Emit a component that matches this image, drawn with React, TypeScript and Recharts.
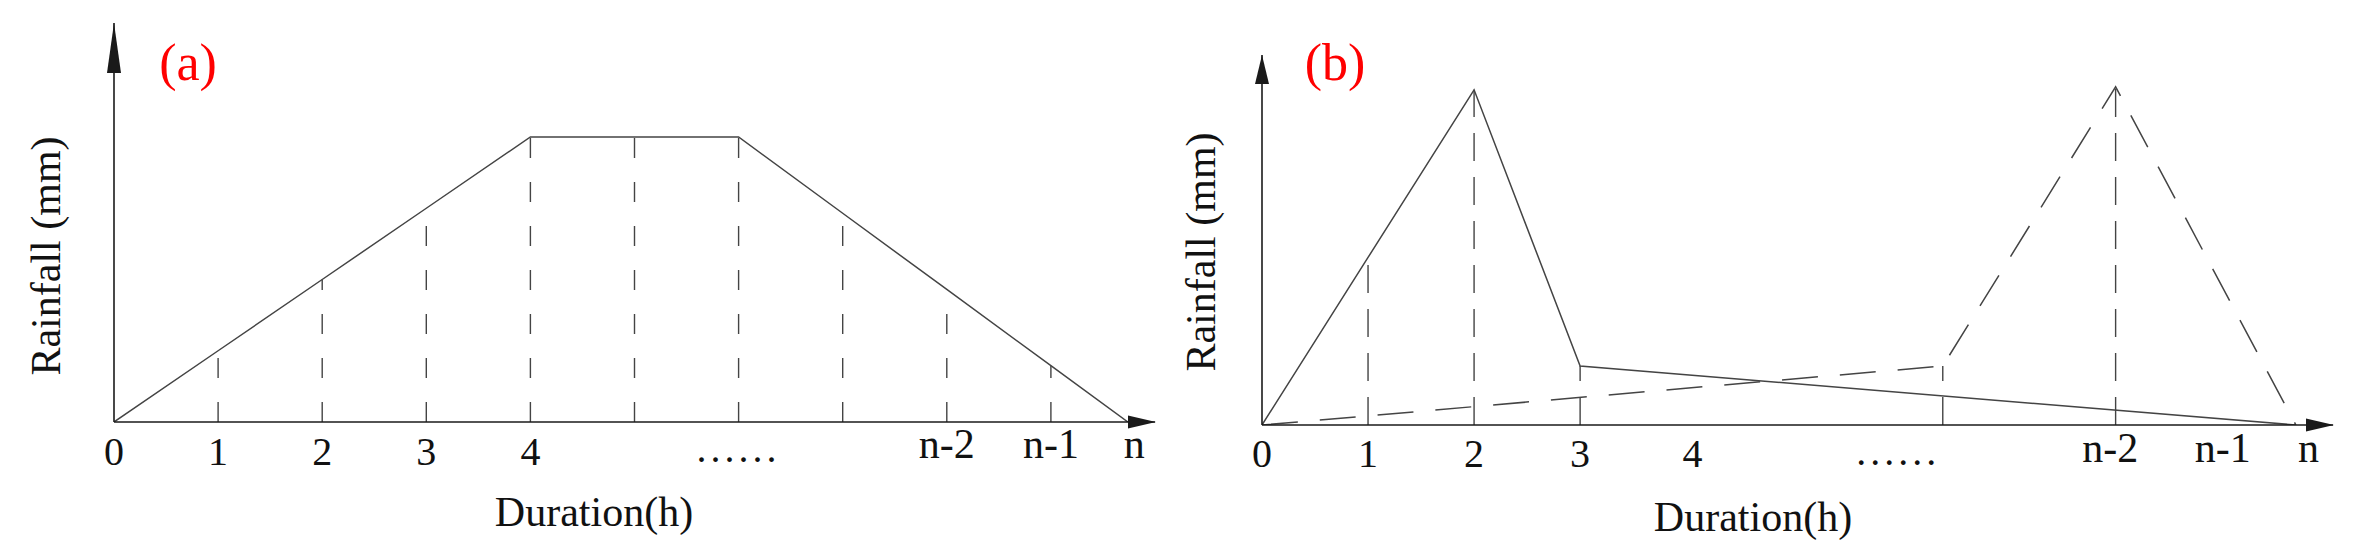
import { LineChart, Line, XAxis, YAxis, ReferenceLine, ReferenceDot, Label } from 'recharts';

const FONT = '"Liberation Serif", "Times New Roman", serif';
const AXIS = '#1a1a1a';
const INK = '#444';

// (a) trapezoid hyetograph, x in hours (n drawn a bit short, as in the sketch)
const hoursA = [0, 1, 2, 3, 4, 5, 6, 7, 8, 9, 9.74];
const rainA = [0, 1, 2, 3, 4, 4, 4, 2.93, 1.86, 0.79, 0];
const tickPosA = [0, 1, 2, 3, 4, 6, 8, 9, 9.8];

// (b) front-loaded peak (solid) and back-loaded peak (dashed)
const hoursFront = [0, 1, 2, 3, 9.75];
const rainFront = [0, 5, 10, 1.76, 0];
const hoursRear = [0, 6.42, 8.05, 9.75];
const rainRear = [0, 1.76, 10.09, 0];
const tickPosB = [0, 1, 2, 3, 4.06, 6, 8, 9.06, 9.87];

const tickText = ['0', '1', '2', '3', '4', '......', 'n-2', 'n-1', 'n'];

type Pt = { x: number; y: number };
const zip = (xs: number[], ys: number[]): Pt[] => xs.map((x, i) => ({ x, y: ys[i] }));

const seriesA = zip(hoursA, rainA);
const front = zip(hoursFront, rainFront);
const rear = zip(hoursRear, rainRear);

// vertical dashed guides: from the axis up to the curve
const guidesA = seriesA.slice(1, -1);
const guidesB = [...front.slice(1, 4), ...rear.slice(1, 3)];

function AxisTick(props: any) {
  const { x, y, payload, positions, base } = props;
  const label = tickText[positions.indexOf(payload.value)] ?? '';
  const isN = label.startsWith('n');
  const isDots = label.startsWith('.');
  const dy = isN ? base.n : isDots ? base.dots : base.digit;
  return (
    <text x={x} y={y + dy} textAnchor="middle" fontFamily={FONT} fontSize={isN ? 42 : 40}
      letterSpacing={isDots ? 4 : 0} fill="#111">
      {label}
    </text>
  );
}

interface PanelProps {
  width: number;
  tag: string;
  tagX: number;
  lines: { data: Pt[]; dash?: string }[];
  guides: Pt[];
  guideDash: string;
  ticks: number[];
  xMax: number;
  yMax: number;
  yAxisWidth: number;
  marginTop: number;
  marginRight: number;
  xAxisHeight: number;
  arrowLen: number;
  tickBase: { digit: number; n: number; dots: number };
  rainX: number;
  rainY: number;
  durX: number;
  durY: number;
}

function Panel(p: PanelProps) {
  return (
    <LineChart width={p.width} height={552}
      margin={{ top: p.marginTop, right: p.marginRight, bottom: 20, left: 0 }}>
      <XAxis type="number" dataKey="x" domain={[0, p.xMax]} allowDataOverflow
        ticks={p.ticks} interval={0} tickLine={false} tickSize={0} tickMargin={0}
        height={p.xAxisHeight} axisLine={{ stroke: AXIS, strokeWidth: 1.6 }}
        tick={(t: any) => <AxisTick {...t} positions={p.ticks} base={p.tickBase} />}>
        <Label content={() => (
          <text x={p.durX} y={p.durY} textAnchor="middle" fontFamily={FONT} fontSize={42} fill="#111">
            Duration(h)
          </text>
        )} />
      </XAxis>
      <YAxis type="number" dataKey="y" domain={[0, p.yMax]} allowDataOverflow width={p.yAxisWidth}
        tick={false} tickLine={false} axisLine={{ stroke: AXIS, strokeWidth: 1.6 }}>
        <Label content={() => (
          <g>
            <text x={p.rainX} y={p.rainY} transform={`rotate(-90, ${p.rainX}, ${p.rainY})`}
              textAnchor="middle" fontFamily={FONT} fontSize={42} fill="#111">
              Rainfall (mm)
            </text>
            <text x={p.tagX} y={80} textAnchor="middle" fontFamily={FONT} fontSize={52} fill="#ff0000">
              {p.tag}
            </text>
          </g>
        )} />
      </YAxis>

      {p.guides.map((g, i) => (
        <ReferenceLine key={`g-${i}`} segment={[{ x: g.x, y: 0 }, { x: g.x, y: g.y }]}
          stroke={INK} strokeWidth={1.4} strokeDasharray={p.guideDash} ifOverflow="visible" />
      ))}

      {p.lines.map((l, i) => (
        <Line key={`l-${i}`} data={l.data} dataKey="y" type="linear" stroke={INK} strokeWidth={1.5}
          strokeDasharray={l.dash} dot={false} activeDot={false} isAnimationActive={false} />
      ))}

      {/* axis arrowheads */}
      <ReferenceDot x={p.xMax} y={0} ifOverflow="visible"
        shape={(s: any) => (
          <polygon points={`${s.cx - 27},${s.cy - 6.5} ${s.cx + 1},${s.cy} ${s.cx - 27},${s.cy + 6.5}`} fill={AXIS} />
        )} />
      <ReferenceDot x={0} y={p.yMax} ifOverflow="visible"
        shape={(s: any) => (
          <polygon points={`${s.cx - 7},${s.cy + p.arrowLen} ${s.cx},${s.cy} ${s.cx + 7},${s.cy + p.arrowLen}`} fill={AXIS} />
        )} />
    </LineChart>
  );
}

export default function App() {
  return (
    <div style={{ display: 'flex', width: 2362, height: 552, background: '#fff' }}>
      <style>{'body{margin:0}'}</style>
      <Panel width={1160} tag="(a)" tagX={188}
        lines={[{ data: seriesA }]}
        guides={guidesA} guideDash="20 24"
        ticks={tickPosA} xMax={10} yMax={5.6}
        yAxisWidth={114} marginTop={23} marginRight={5} xAxisHeight={110}
        arrowLen={50} tickBase={{ digit: 43, n: 36, dots: 40 }}
        rainX={60} rainY={256} durX={594} durY={526} />
      <Panel width={1202} tag="(b)" tagX={175}
        lines={[{ data: front }, { data: rear, dash: '36 22' }]}
        guides={guidesB} guideDash="28 16"
        ticks={tickPosB} xMax={10.1} yMax={11.04}
        yAxisWidth={102} marginTop={55} marginRight={29} xAxisHeight={107}
        arrowLen={29} tickBase={{ digit: 42, n: 37, dots: 40 }}
        rainX={55} rainY={252} durX={593} durY={531} />
    </div>
  );
}
